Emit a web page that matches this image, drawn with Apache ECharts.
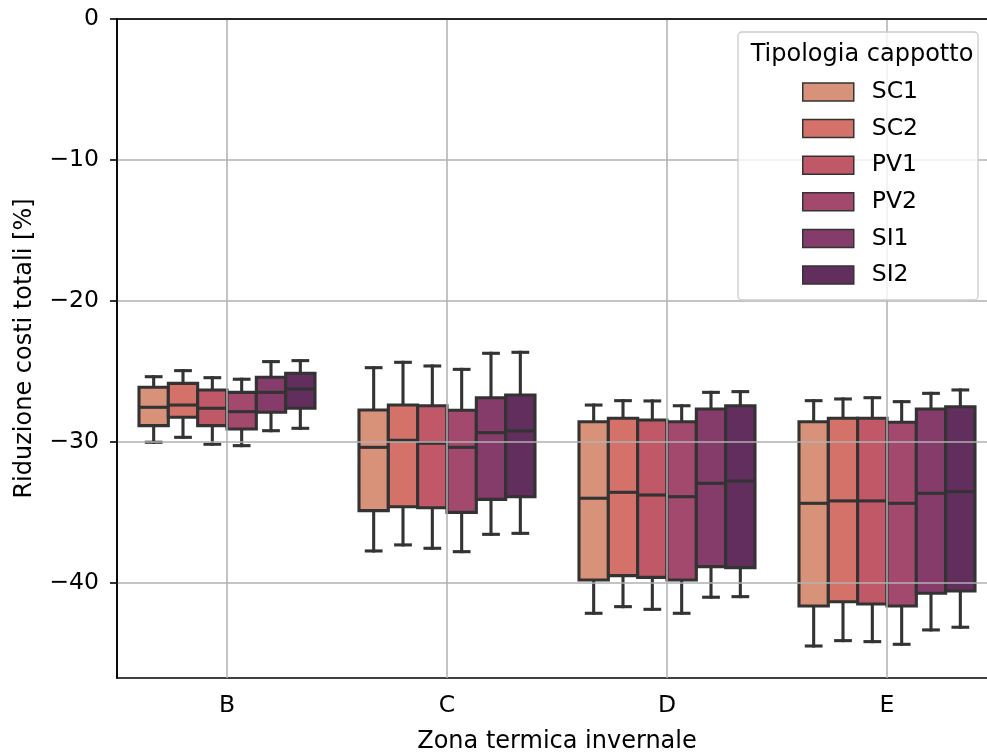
<!DOCTYPE html>
<html>
<head>
<meta charset="utf-8">
<script src="https://cdn.jsdelivr.net/npm/echarts@6/dist/echarts.min.js"></script>
<style>
  html, body { margin: 0; padding: 0; background: #ffffff; }
  #chart { width: 987px; height: 755px; }
</style>
</head>
<body>
<div id="chart"></div>
<script>
// Winter climate zones (x categories) and insulation types (hue)
const zones = ['B', 'C', 'D', 'E'];
const types = ['SC1', 'SC2', 'PV1', 'PV2', 'SI1', 'SI2'];

// Box statistics per type, one row per zone: [lower whisker, Q1, median, Q3, upper whisker]
const statsSC1 = [
  [-30.02, -28.84, -27.54, -26.12, -25.37],
  [-37.73, -34.87, -30.38, -27.73, -24.73],
  [-42.15, -39.79, -33.99, -28.56, -27.38],
  [-44.47, -41.63, -34.35, -28.56, -27.07]
];
const statsSC2 = [
  [-29.67, -28.25, -27.38, -25.84, -24.94],
  [-37.30, -34.59, -29.88, -27.38, -24.35],
  [-41.68, -39.48, -33.57, -28.32, -27.07],
  [-44.09, -41.33, -34.18, -28.32, -26.95]
];
const statsPV1 = [
  [-30.16, -28.84, -27.61, -26.31, -25.44],
  [-37.54, -34.66, -30.09, -27.43, -24.61],
  [-41.87, -39.60, -33.76, -28.44, -27.09],
  [-44.16, -41.49, -34.18, -28.32, -26.86]
];
const statsPV2 = [
  [-30.26, -29.08, -27.85, -26.48, -25.55],
  [-37.78, -34.99, -30.38, -27.75, -24.85],
  [-42.15, -39.79, -33.88, -28.56, -27.43],
  [-44.35, -41.63, -34.35, -28.60, -27.14]
];
const statsSI1 = [
  [-29.20, -27.89, -26.48, -25.41, -24.30],
  [-36.55, -34.07, -29.34, -26.86, -23.71],
  [-41.01, -38.84, -32.93, -27.66, -26.48],
  [-43.33, -40.73, -33.64, -27.66, -26.55]
];
const statsSI2 = [
  [-29.03, -27.61, -26.24, -25.13, -24.23],
  [-36.48, -33.88, -29.22, -26.67, -23.64],
  [-40.97, -38.91, -32.77, -27.43, -26.43],
  [-43.14, -40.57, -33.52, -27.50, -26.31]
];
const statsByType = [statsSC1, statsSC2, statsPV1, statsPV2, statsSI1, statsSI2];

// Value axis ticks and range
const yTicks = [0, -10, -20, -30, -40];
const yMin = -46.74;
const yMax = 0;

const palette = ['#d9927a', '#d47269', '#c15868', '#a4496e', '#863c6b', '#622e5e'];
const edgeColor = '#333333';
const edgeWidth = 3.1;
const font = 'DejaVu Sans';

function formatTick(v) {
  return v < 0 ? '\u2212' + Math.abs(v) : String(v);
}

// Draws one box (with whiskers and caps) for hue index k, dodged inside the category band
function boxRenderer(k) {
  return function (params, api) {
    const cat = api.value(0);
    const band = api.size([1, 0])[0];
    const w = band * 0.8 / types.length;
    const cx = api.coord([cat, 0])[0] + (k - (types.length - 1) / 2) * w;
    const py = function (i) { return api.coord([cat, api.value(i)])[1]; };
    const yLo = py(1), yQ1 = py(2), yMed = py(3), yQ3 = py(4), yHi = py(5);
    const ls = { stroke: edgeColor, lineWidth: edgeWidth, lineCap: 'square' };
    return {
      type: 'group',
      children: [
        { type: 'line', shape: { x1: cx, y1: yQ3, x2: cx, y2: yHi }, style: ls },
        { type: 'line', shape: { x1: cx, y1: yQ1, x2: cx, y2: yLo }, style: ls },
        { type: 'line', shape: { x1: cx - w / 4, y1: yHi, x2: cx + w / 4, y2: yHi }, style: ls },
        { type: 'line', shape: { x1: cx - w / 4, y1: yLo, x2: cx + w / 4, y2: yLo }, style: ls },
        { type: 'rect', shape: { x: cx - w / 2, y: yQ3, width: w, height: yQ1 - yQ3 },
          style: { fill: palette[k], stroke: edgeColor, lineWidth: edgeWidth } },
        { type: 'line', shape: { x1: cx - w / 2, y1: yMed, x2: cx + w / 2, y2: yMed },
          style: { stroke: edgeColor, lineWidth: edgeWidth } }
      ]
    };
  };
}

const chart = echarts.init(document.getElementById('chart'), null, { renderer: 'canvas' });

chart.setOption({
  animation: false,
  backgroundColor: '#ffffff',
  grid: {
    left: 117, top: 19, width: 880, height: 659,
    containLabel: false,
    outerBoundsMode: 'none',
    show: true, borderColor: '#000000', borderWidth: 1.6, backgroundColor: 'transparent'
  },
  xAxis: {
    type: 'category',
    data: zones,
    boundaryGap: true,
    z: 5,
    axisLine: { lineStyle: { color: '#000000', width: 1.6 } },
    axisTick: { alignWithLabel: true, length: 7, lineStyle: { color: '#000000', width: 1.6 } },
    axisLabel: { fontFamily: font, fontSize: 23.5, color: '#000000', margin: 16 },
    splitLine: { show: true, alignWithLabel: true, lineStyle: { color: '#b0b0b0', width: 1.5 } },
    name: 'Zona termica invernale',
    nameLocation: 'middle',
    nameGap: 52,
    nameTextStyle: { fontFamily: font, fontSize: 24, color: '#000000' }
  },
  yAxis: {
    type: 'value',
    min: yMin,
    max: yMax,
    z: 5,
    axisLine: { show: true, lineStyle: { color: '#000000', width: 1.6 } },
    axisTick: { show: true, customValues: yTicks, length: 7, lineStyle: { color: '#000000', width: 1.6 } },
    axisLabel: { customValues: yTicks, formatter: formatTick, fontFamily: font, fontSize: 23.5, color: '#000000', margin: 18 },
    splitLine: { show: true, lineStyle: { color: '#b0b0b0', width: 1.5 } },
    name: 'Riduzione costi totali [%]',
    nameLocation: 'middle',
    nameGap: 80,
    nameTextStyle: { fontFamily: font, fontSize: 24, color: '#000000' }
  },
  legend: {
    data: types,
    orient: 'vertical',
    left: 738,
    top: 32,
    padding: [48, 60, 13, 64],
    itemWidth: 51,
    itemHeight: 18,
    itemGap: 12.6,
    icon: 'rect',
    selectedMode: false,
    backgroundColor: 'rgba(255,255,255,0.8)',
    borderColor: '#cccccc',
    borderWidth: 1.3,
    borderRadius: 4,
    itemStyle: { borderColor: edgeColor, borderWidth: 1.5 },
    textStyle: { fontFamily: font, fontSize: 23.5, color: '#000000', padding: [0, 0, 0, 13] },
    z: 10
  },
  graphic: [{
    type: 'text',
    x: 862,
    y: 55,
    z: 100,
    style: {
      text: 'Tipologia cappotto',
      fontFamily: font,
      fontSize: 24,
      fill: '#000000',
      align: 'center',
      verticalAlign: 'middle'
    }
  }],
  series: types.map(function (name, k) {
    return {
      type: 'custom',
      name: name,
      renderItem: boxRenderer(k),
      itemStyle: { color: palette[k], borderColor: edgeColor, borderWidth: 1.5 },
      encode: { x: 0, y: [1, 2, 3, 4, 5] },
      data: zones.map(function (z, i) { return [z].concat(statsByType[k][i]); }),
      z: 2
    };
  })
});
</script>
</body>
</html>
